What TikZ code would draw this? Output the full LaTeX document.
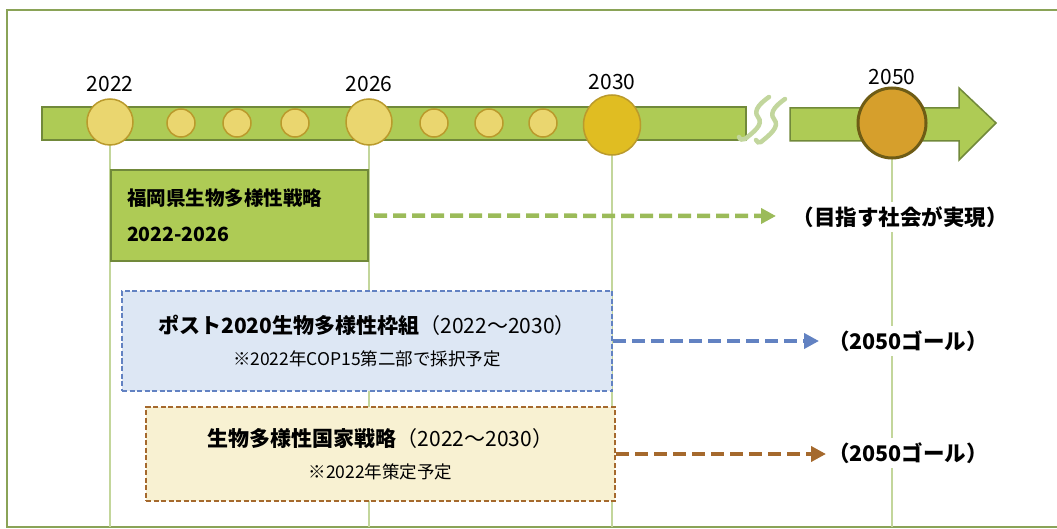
\documentclass[tikz,border=0pt]{standalone}
\usepackage{fontspec}
\setmainfont{Noto Sans CJK JP}
\usetikzlibrary{arrows.meta,positioning,shapes.geometric}
\definecolor{barfill}{HTML}{AECB55}
\definecolor{barline}{HTML}{71893A}
\definecolor{frameline}{HTML}{8AA357}
\definecolor{tickline}{HTML}{C3D69B}
\definecolor{dotfill}{HTML}{EAD66F}
\definecolor{dotline}{HTML}{BA9A2C}
\definecolor{midfill}{HTML}{E0BD22}
\definecolor{goalfill}{HTML}{D69F2C}
\definecolor{goalline}{HTML}{6E5C15}
\definecolor{brkline}{HTML}{C2D69D}
\definecolor{greenarr}{HTML}{9BBB59}
\definecolor{bluearr}{HTML}{6282C2}
\definecolor{bluefill}{HTML}{DDE7F4}
\definecolor{brownarr}{HTML}{A5692D}
\definecolor{creamfill}{HTML}{F8F1D2}

\begin{document}
\begin{tikzpicture}[x=1pt, y=-1pt,
		dot/.style={circle, draw=dotline, fill=dotfill, line width=1.5pt, minimum size=28pt, inner sep=0pt},
		bigdot/.style={dot, minimum size=46pt},
		yearlabel/.style={font=\fontsize{21}{21}\selectfont, inner sep=1pt},
		tick/.style={draw=tickline, line width=2pt},
		brk/.style={draw=brkline, line width=4.5pt, line cap=round},
		planbox/.style={rectangle, align=center, inner sep=0pt, line width=2pt, dash pattern=on 5pt off 2.5pt,
			font=\fontsize{21}{32}\selectfont},
		flow/.style={line width=4.5pt, dash pattern=on 13pt off 6pt, -{Triangle[length=15pt,width=15pt]}},
		goal/.style={font=\bfseries\fontsize{21.5}{21.5}\selectfont, fill=white, inner sep=4pt}]
			%%%%% START %%%%%
			\useasboundingbox (0,0) rectangle (1057,529);
			\draw[frameline, line width=2pt] (7,10) rectangle (1064,527);
			
			\coordinate (base) at (0,527);
			\coordinate (t2022) at (110,122);
			\coordinate (t2026) at (369,122);
			\coordinate (t2030) at (612,125);
			\coordinate (t2050) at (892,123);
			
			% year ticks
			\foreach \yr in {2022,2026,2030,2050}
				\draw[tick] (t\yr) -- (t\yr |- base);
			
			% timeline bar
			\draw[draw=barline, fill=barfill, line width=1.5pt] (42,107) rectangle (746,140);
			\draw[draw=barline, fill=barfill, line width=1.5pt] (790,108) -- (959,108) -- (959,88) -- (996,123)
				-- (959,160) -- (959,141) -- (790,141) -- cycle;
			\draw[brk] (769,97) to[out=215,in=130] (758,117) to[out=-50,in=40] (745,139) to[out=220,in=-80] (739,137);
			\draw[brk] (785,99) to[out=215,in=130] (774,119) to[out=-50,in=40] (761,142) to[out=220,in=-80] (756,140);
			
			% year circles
			\node[bigdot] (c2022) at (t2022) {};
			\node[bigdot] (c2026) at (t2026) {};
			\foreach \x [count=\i] in {181,237,295,434,489,543}
				\node[dot] (d\i) at (\x,123) {};
			\node[ellipse, draw=dotline, fill=midfill, line width=1.5pt, minimum width=57pt, minimum height=60pt,
				inner sep=0pt] (c2030) at (t2030) {};
			\node[ellipse, draw=goalline, fill=goalfill, line width=3pt, minimum width=68pt, minimum height=70pt,
				inner sep=0pt] (c2050) at (t2050) {};
			
			\node[yearlabel, above=5pt of c2022] {2022};
			\node[yearlabel, above=5pt of c2026] {2026};
			\node[yearlabel, above=3pt of c2030] {2030};
			\node[yearlabel, above=1pt of c2050] {2050};
			
			% strategies
			\node[draw=barline, fill=barfill, line width=2pt, minimum width=257pt, minimum height=91pt,
				text width=225pt, inner sep=0pt, align=left, font=\bfseries\fontsize{19.5}{36}\selectfont]
				(pref) at (239.5,215.5) {福岡県生物多様性戦略\\2022-2026};
			\node[planbox, draw=bluearr, fill=bluefill, minimum width=490pt, minimum height=100pt]
				(post) at (367,341) {{\bfseries ポスト2020生物多様性枠組}（2022～2030）\\
				{\fontsize{17.5}{17.5}\selectfont ※2022年COP15第二部で採択予定}};
			\node[planbox, draw=brownarr, fill=creamfill, minimum width=469pt, minimum height=94pt]
				(nat) at (380.5,454) {{\bfseries 生物多様性国家戦略}（2022～2030）\\
				{\fontsize{17.5}{17.5}\selectfont ※2022年策定予定}};
			
			% goals
			\node[goal] (g1) at (900,217) {（目指す社会が実現）};
			\node[goal] (g2) at (908,341) {（2050ゴール）};
			\node[goal] (g3) at (908,453) {（2050ゴール）};
			
			\coordinate (e1) at (776,216);
			\coordinate (e2) at (819,341);
			\coordinate (e3) at (826,454);
			\draw[flow, greenarr] ([xshift=5pt]pref.east) -- (e1);
			\draw[flow, bluearr] (post.east) -- (e2);
			\draw[flow, brownarr] (nat.east) -- (e3);
			%%%%% END %%%%%
\end{tikzpicture}
\end{document}
